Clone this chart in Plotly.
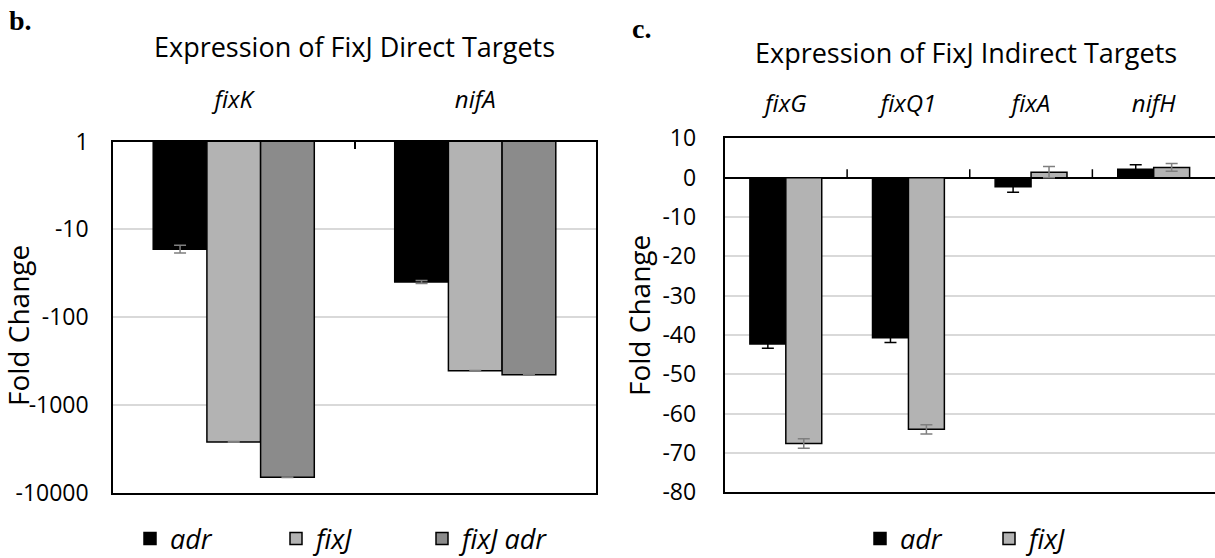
import plotly.graph_objects as go

# ---------------- data ----------------
direct_genes = ["fixK", "nifA"]
direct_adr = [-16.9, -40.0]
direct_fixJ = [-2650, -410]
direct_fixJ_adr = [-6700, -455]
direct_adr_err = [1.7, 1.5]
direct_fixJ_err = [25, 4]
direct_fixJ_adr_err = [60, 4]
direct_tick_values = [1, -10, -100, -1000, -10000]

indirect_genes = ["fixG", "fixQ1", "fixA", "nifH"]
indirect_adr = [-42.3, -40.7, -2.3, 2.1]
indirect_fixJ = [-67.6, -64.0, 1.4, 2.6]
indirect_adr_err = [1.1, 1.2, 1.4, 1.2]
indirect_fixJ_err = [1.2, 1.2, 1.4, 1.0]
indirect_tick_values = [10, 0, -10, -20, -30, -40, -50, -60, -70, -80]

series_names = ["adr", "fixJ", "fixJ adr"]
# ---------------------------------------

FONT = "Open Sans"
BLACK = "#000000"
LIGHT = "#b3b3b3"
DARK = "#8b8b8b"
ERR_GRAY = "#7f7f7f"
GRID = "#d9d9d9"

W, H = 1215, 558

fig = go.Figure()

left_sets = [
    (direct_adr, direct_adr_err, BLACK, series_names[0]),
    (direct_fixJ, direct_fixJ_err, LIGHT, series_names[1]),
    (direct_fixJ_adr, direct_fixJ_adr_err, DARK, series_names[2]),
]
lw = 0.667 / 3
for i, (vals, errs, col, name) in enumerate(left_sets):
    fig.add_trace(go.Bar(
        x=direct_genes, y=[abs(v) for v in vals],
        name=f"<i>{name}</i>", legend="legend",
        marker=dict(color=col, line=dict(color="black", width=1.5)),
        width=lw, offset=-0.3335 + i * lw,
        error_y=dict(type="data", array=errs, visible=True,
                     color=ERR_GRAY, thickness=1.5, width=6),
        xaxis="x", yaxis="y", hoverinfo="skip",
    ))

right_sets = [
    (indirect_adr, indirect_adr_err, BLACK, BLACK, series_names[0]),
    (indirect_fixJ, indirect_fixJ_err, LIGHT, ERR_GRAY, series_names[1]),
]
rw = 0.293
for i, (vals, errs, col, ecol, name) in enumerate(right_sets):
    fig.add_trace(go.Bar(
        x=indirect_genes, y=vals,
        name=f"<i>{name}</i>", legend="legend2",
        marker=dict(color=col, line=dict(color="black", width=1.5)),
        width=rw, offset=-rw + i * rw,
        error_y=dict(type="data", array=errs, visible=True,
                     color=ecol, thickness=1.5, width=6),
        xaxis="x2", yaxis="y2", hoverinfo="skip",
    ))

for k in range(len(indirect_genes) - 1):
    fig.add_shape(type="line", xref="x2", yref="y2",
                  x0=k + 0.5, x1=k + 0.5, y0=0, y1=2.1,
                  line=dict(color="black", width=1.5))

def px(x):
    return x / W

def py(y):
    return 1 - y / H

def note(text, x, y, size, family=FONT, angle=0):
    return dict(text=text, x=px(x), y=py(y), xref="paper", yref="paper",
                xanchor="center", yanchor="middle", showarrow=False,
                textangle=angle, font=dict(family=family, size=size, color="black"))

fig.update_layout(
    width=W, height=H,
    margin=dict(l=0, r=0, t=0, b=0, autoexpand=False),
    paper_bgcolor="white", plot_bgcolor="white",
    barmode="overlay",
    font=dict(family=FONT, color="black"),
    showlegend=True,
    xaxis=dict(
        domain=[px(113), px(596)], anchor="y", type="category",
        side="top", showline=True, linecolor="black", linewidth=1.5,
        mirror=True, ticks="inside", tickson="boundaries", ticklen=8,
        tickwidth=1.5, tickcolor="black", showgrid=False,
        tickfont=dict(size=24, style="italic"), ticklabelstandoff=22,
    ),
    yaxis=dict(
        domain=[py(492.5), py(141.5)], anchor="x", type="log",
        range=[4, 0], tickvals=[abs(t) for t in direct_tick_values],
        ticktext=[str(t) for t in direct_tick_values],
        showline=True, linecolor="black", linewidth=1.5, mirror=True,
        showgrid=True, gridcolor=GRID, gridwidth=1.5, zeroline=False,
        ticks="", tickfont=dict(size=23), ticklabelstandoff=18,
    ),
    xaxis2=dict(
        domain=[px(724.5), 1.0], anchor="y2", type="category",
        side="top", showline=True, linecolor="black", linewidth=1.5,
        mirror=True, ticks="", showgrid=False,
        tickfont=dict(size=24, style="italic"), ticklabelstandoff=15,
    ),
    yaxis2=dict(
        domain=[py(492.3), py(138.3)], anchor="x2", range=[-80, 10],
        tickvals=indirect_tick_values,
        ticktext=[str(t) for t in indirect_tick_values],
        showline=True, linecolor="black", linewidth=1.5, mirror=False,
        showgrid=True, gridcolor=GRID, gridwidth=1.5,
        zeroline=True, zerolinecolor="black", zerolinewidth=1.5,
        ticks="", tickfont=dict(size=23), ticklabelstandoff=22,
    ),
    legend=dict(
        orientation="h", x=px(130), y=py(539), xanchor="left", yanchor="middle",
        font=dict(size=27, family=FONT), entrywidth=101, entrywidthmode="pixels",
        bgcolor="rgba(0,0,0,0)", borderwidth=0,
    ),
    legend2=dict(
        orientation="h", x=px(860), y=py(539), xanchor="left", yanchor="middle",
        font=dict(size=27, family=FONT), entrywidth=84, entrywidthmode="pixels",
        bgcolor="rgba(0,0,0,0)", borderwidth=0,
    ),
    annotations=[
        note("<b>b.</b>", 20, 21, 28, family="Liberation Serif"),
        note("<b>c.</b>", 641, 28, 28, family="Liberation Serif"),
        note("Expression of FixJ Direct Targets", 354, 47, 27),
        note("Expression of FixJ Indirect Targets", 966, 53, 27),
        note("Fold Change", 18, 326, 28, angle=-90),
        note("Fold Change", 639, 316, 28, angle=-90),
    ],
)

fig.write_html("out.html")
